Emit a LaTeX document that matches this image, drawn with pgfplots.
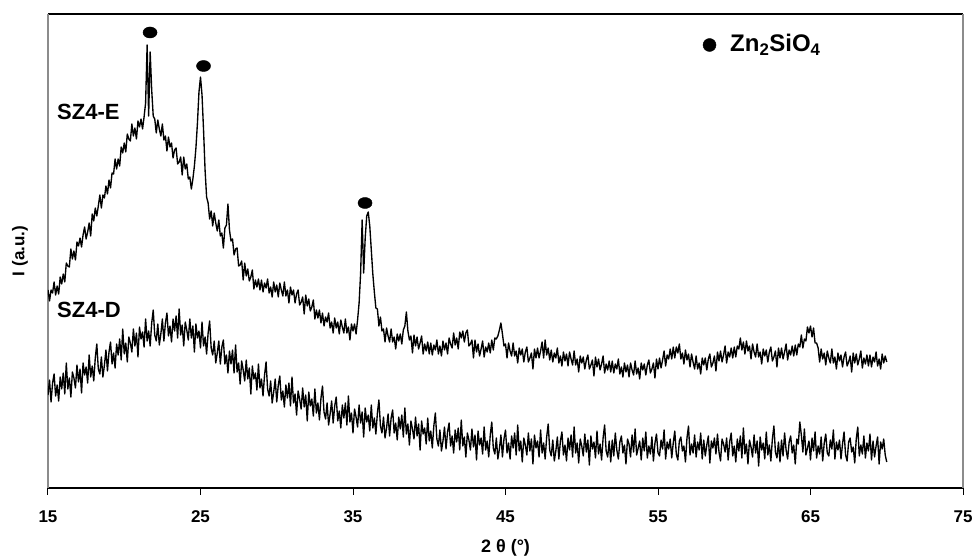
\documentclass[border=0pt]{standalone}
\usepackage{fontspec}
\setmainfont{Liberation Sans}
\usepackage{pgfplots}
\pgfplotsset{compat=1.18}
\begin{document}
\begin{tikzpicture}
\useasboundingbox (-48pt,-68pt) rectangle (927pt,488pt);
\begin{axis}[
  scale only axis, width=915pt, height=474pt,
  xmin=15, xmax=75, ymin=0, ymax=474,
  separate axis lines,
  x axis line style={black, line width=1.2pt},
  y axis line style={black!45, line width=1.6pt},
  xtick={15,25,35,45,55,65,75},
  xticklabels={15,25,35,45,55,65,75},
  ytick=\empty,
  tick align=outside,
  xtick pos=left,
  major tick length=7pt,
  every tick/.style={black, line width=1pt},
  xticklabel style={font=\fontsize{17}{17}\selectfont\bfseries, yshift=-12pt},
  xlabel={2 θ (°)},
  ylabel={I (a.u.)},
  every axis x label/.style={at={(axis description cs:0.5,-0.1266)},anchor=center,font=\fontsize{18}{18}\selectfont\bfseries},
  every axis y label/.style={at={(axis description cs:-0.0306,0.5)},rotate=90,anchor=center,font=\fontsize{17}{17}\selectfont\bfseries},
]
% SZ4-E
\addplot[black, line width=1.35pt, line join=round, mark=none] coordinates {
(15.0,198) (15.1,187) (15.2,198) (15.3,195) (15.4,206) (15.5,193) (15.6,202) (15.7,194) (15.8,211) (15.9,204)
(16.0,214) (16.1,206) (16.2,225) (16.3,222) (16.4,221) (16.5,239) (16.6,229) (16.7,237) (16.8,228) (16.9,246)
(17.0,242) (17.1,250) (17.2,241) (17.3,253) (17.4,261) (17.5,249) (17.6,256) (17.7,265) (17.8,252) (17.9,274)
(18.0,267) (18.1,280) (18.2,272) (18.3,282) (18.4,293) (18.5,280) (18.6,293) (18.7,290) (18.8,302) (18.9,294)
(19.0,308) (19.1,300) (19.2,315) (19.3,314) (19.4,329) (19.5,319) (19.6,329) (19.7,322) (19.8,341) (19.9,335)
(20.0,345) (20.1,336) (20.2,354) (20.3,349) (20.4,347) (20.5,364) (20.6,352) (20.7,360) (20.8,349) (20.9,367)
(21.0,361) (21.1,369) (21.2,359) (21.3,371) (21.4,385) (21.5,443) (21.6,372) (21.7,436) (21.8,398) (21.9,372)
(22.0,369) (22.1,355) (22.2,368) (22.3,359) (22.4,352) (22.5,364) (22.6,348) (22.7,352) (22.8,337) (22.9,351)
(23.0,341) (23.1,345) (23.2,330) (23.3,338) (23.4,340) (23.5,324) (23.6,326) (23.7,331) (23.8,313) (23.9,331)
(24.0,319) (24.1,324) (24.2,309) (24.3,311) (24.4,299) (24.5,309) (24.6,322) (24.7,340) (24.8,365) (24.9,396)
(25.0,411) (25.1,393) (25.2,358) (25.3,318) (25.4,291) (25.5,285) (25.6,269) (25.7,277) (25.8,262) (25.9,275)
(26.0,265) (26.1,257) (26.2,268) (26.3,252) (26.4,255) (26.5,240) (26.6,260) (26.7,263) (26.8,284) (26.9,258)
(27.0,247) (27.1,249) (27.2,233) (27.3,239) (27.4,240) (27.5,222) (27.6,223) (27.7,227) (27.8,208) (27.9,225)
(28.0,212) (28.1,219) (28.2,207) (28.3,211) (28.4,218) (28.5,199) (28.6,208) (28.7,201) (28.8,209) (28.9,198)
(29.0,208) (29.1,196) (29.2,205) (29.3,200) (29.4,209) (29.5,195) (29.6,201) (29.7,191) (29.8,206) (29.9,196)
(30.0,203) (30.1,191) (30.2,205) (30.3,198) (30.4,192) (30.5,206) (30.6,192) (30.7,198) (30.8,185) (30.9,201)
(31.0,193) (31.1,198) (31.2,185) (31.3,194) (31.4,198) (31.5,183) (31.6,186) (31.7,191) (31.8,174) (31.9,193)
(32.0,182) (32.1,189) (32.2,177) (32.3,181) (32.4,188) (32.5,169) (32.6,178) (32.7,170) (32.8,178) (32.9,165)
(33.0,175) (33.1,162) (33.2,171) (33.3,166) (33.4,175) (33.5,160) (33.6,166) (33.7,155) (33.8,170) (33.9,160)
(34.0,166) (34.1,154) (34.2,168) (34.3,161) (34.4,155) (34.5,169) (34.6,155) (34.7,161) (34.8,148) (34.9,164)
(35.0,157) (35.1,164) (35.2,154) (35.3,168) (35.4,185) (35.5,215) (35.6,268) (35.7,215) (35.8,250) (35.9,272)
(36.0,276) (36.1,262) (36.2,238) (36.3,214) (36.4,196) (36.5,180) (36.6,179) (36.7,162) (36.8,171) (36.9,157)
(37.0,159) (37.1,146) (37.2,160) (37.3,152) (37.4,146) (37.5,159) (37.6,146) (37.7,151) (37.8,139) (37.9,154)
(38.0,147) (38.1,154) (38.2,144) (38.3,158) (38.4,162) (38.5,176) (38.6,157) (38.7,148) (38.8,152) (38.9,135)
(39.0,153) (39.1,142) (39.2,151) (39.3,139) (39.4,145) (39.5,152) (39.6,134) (39.7,144) (39.8,137) (39.9,146)
(40.0,134) (40.1,145) (40.2,133) (40.3,143) (40.4,138) (40.5,148) (40.6,134) (40.7,142) (40.8,132) (40.9,147)
(41.0,138) (41.1,145) (41.2,134) (41.3,150) (41.4,144) (41.5,140) (41.6,155) (41.7,143) (41.8,150) (41.9,139)
(42.0,156) (42.1,150) (42.2,157) (42.3,146) (42.4,155) (42.5,158) (42.6,142) (42.7,144) (42.8,148) (42.9,130)
(43.0,148) (43.1,136) (43.2,144) (43.3,132) (43.4,139) (43.5,147) (43.6,131) (43.7,141) (43.8,136) (43.9,145)
(44.0,135) (44.1,148) (44.2,138) (44.3,150) (44.4,149) (44.5,152) (44.6,158) (44.7,165) (44.8,154) (44.9,142)
(45.0,144) (45.1,130) (45.2,145) (45.3,137) (45.4,132) (45.5,145) (45.6,132) (45.7,137) (45.8,125) (45.9,140)
(46.0,133) (46.1,139) (46.2,126) (46.3,136) (46.4,141) (46.5,126) (46.6,130) (46.7,135) (46.8,119) (46.9,139)
(47.0,130) (47.1,140) (47.2,130) (47.3,137) (47.4,146) (47.5,130) (47.6,148) (47.7,133) (47.8,140) (47.9,128)
(48.0,138) (48.1,126) (48.2,135) (48.3,130) (48.4,140) (48.5,125) (48.6,132) (48.7,122) (48.8,136) (48.9,127)
(49.0,134) (49.1,122) (49.2,136) (49.3,129) (49.4,123) (49.5,137) (49.6,123) (49.7,129) (49.8,116) (49.9,132)
(50.0,125) (50.1,131) (50.2,119) (50.3,128) (50.4,133) (50.5,119) (50.6,123) (50.7,128) (50.8,112) (50.9,131)
(51.0,121) (51.1,129) (51.2,118) (51.3,124) (51.4,132) (51.5,115) (51.6,124) (51.7,118) (51.8,127) (51.9,116)
(52.0,127) (52.1,115) (52.2,124) (52.3,119) (52.4,129) (52.5,114) (52.6,121) (52.7,111) (52.8,125) (52.9,116)
(53.0,123) (53.1,111) (53.2,125) (53.3,118) (53.4,113) (53.5,127) (53.6,114) (53.7,120) (53.8,109) (53.9,125)
(54.0,118) (54.1,124) (54.2,113) (54.3,123) (54.4,128) (54.5,115) (54.6,119) (54.7,125) (54.8,110) (54.9,129)
(55.0,119) (55.1,130) (55.2,120) (55.3,128) (55.4,137) (55.5,122) (55.6,133) (55.7,129) (55.8,139) (55.9,129)
(56.0,141) (56.1,130) (56.2,141) (56.3,135) (56.4,144) (56.5,129) (56.6,135) (56.7,124) (56.8,138) (56.9,128)
(57.0,134) (57.1,121) (57.2,134) (57.3,126) (57.4,119) (57.5,132) (57.6,119) (57.7,125) (57.8,114) (57.9,130)
(58.0,123) (58.1,130) (58.2,118) (58.3,129) (58.4,134) (58.5,121) (58.6,125) (58.7,132) (58.8,117) (58.9,136)
(59.0,127) (59.1,137) (59.2,126) (59.3,133) (59.4,142) (59.5,125) (59.6,136) (59.7,131) (59.8,140) (59.9,130)
(60.0,141) (60.1,131) (60.2,142) (60.3,139) (60.4,150) (60.5,138) (60.6,146) (60.7,134) (60.8,147) (60.9,137)
(61.0,142) (61.1,129) (61.2,144) (61.3,136) (61.4,131) (61.5,144) (61.6,131) (61.7,136) (61.8,124) (61.9,139)
(62.0,132) (62.1,138) (62.2,126) (62.3,136) (62.4,141) (62.5,127) (62.6,131) (62.7,137) (62.8,121) (62.9,140)
(63.0,130) (63.1,140) (63.2,129) (63.3,136) (63.4,144) (63.5,128) (63.6,138) (63.7,133) (63.8,142) (63.9,132)
(64.0,143) (64.1,133) (64.2,144) (64.3,141) (64.4,153) (64.5,140) (64.6,149) (64.7,147) (64.8,161) (64.9,155)
(65.0,162) (65.1,151) (65.2,160) (65.3,145) (65.4,145) (65.5,140) (65.6,126) (65.7,139) (65.8,129) (65.9,135)
(66.0,123) (66.1,137) (66.2,130) (66.3,125) (66.4,139) (66.5,125) (66.6,131) (66.7,119) (66.8,135) (66.9,127)
(67.0,133) (67.1,121) (67.2,131) (67.3,136) (67.4,122) (67.5,126) (67.6,132) (67.7,116) (67.8,135) (67.9,125)
(68.0,134) (68.1,123) (68.2,129) (68.3,137) (68.4,120) (68.5,130) (68.6,124) (68.7,133) (68.8,122) (68.9,133)
(69.0,121) (69.1,131) (69.2,126) (69.3,136) (69.4,122) (69.5,129) (69.6,119) (69.7,134) (69.8,125) (69.9,132)
(70.0,126)
};
% SZ4-D
\addplot[black, line width=1.35pt, line join=round, mark=none] coordinates {
(15.0,93) (15.1,108) (15.2,86) (15.3,105) (15.4,114) (15.5,92) (15.6,103) (15.7,87) (15.8,111) (15.9,99)
(16.0,115) (16.1,94) (16.2,125) (16.3,99) (16.4,110) (16.5,91) (16.6,116) (16.7,110) (16.8,100) (16.9,123)
(17.0,106) (17.1,119) (17.2,95) (17.3,125) (17.4,113) (17.5,121) (17.6,105) (17.7,133) (17.8,111) (17.9,122)
(18.0,107) (18.1,130) (18.2,144) (18.3,119) (18.4,114) (18.5,131) (18.6,111) (18.7,123) (18.8,138) (18.9,117)
(19.0,136) (19.1,146) (19.2,124) (19.3,135) (19.4,120) (19.5,144) (19.6,133) (19.7,149) (19.8,128) (19.9,159)
(20.0,134) (20.1,145) (20.2,126) (20.3,151) (20.4,145) (20.5,136) (20.6,159) (20.7,142) (20.8,155) (20.9,131)
(21.0,161) (21.1,149) (21.2,156) (21.3,141) (21.4,169) (21.5,147) (21.6,157) (21.7,142) (21.8,165) (21.9,178)
(22.0,153) (22.1,147) (22.2,164) (22.3,143) (22.4,154) (22.5,169) (22.6,147) (22.7,165) (22.8,175) (22.9,152)
(23.0,162) (23.1,146) (23.2,169) (23.3,157) (23.4,172) (23.5,150) (23.6,179) (23.7,153) (23.8,163) (23.9,142)
(24.0,166) (24.1,158) (24.2,148) (24.3,169) (24.4,150) (24.5,162) (24.6,136) (24.7,164) (24.8,150) (24.9,157)
(25.0,140) (25.1,166) (25.2,142) (25.3,151) (25.4,134) (25.5,155) (25.6,167) (25.7,140) (25.8,133) (25.9,147)
(26.0,125) (26.1,135) (26.2,147) (26.3,124) (26.4,141) (26.5,148) (26.6,124) (26.7,133) (26.8,115) (26.9,137)
(27.0,124) (27.1,138) (27.2,115) (27.3,143) (27.4,116) (27.5,125) (27.6,104) (27.7,127) (27.8,118) (27.9,107)
(28.0,128) (28.1,109) (28.2,120) (28.3,94) (28.4,122) (28.5,109) (28.6,115) (28.7,98) (28.8,124) (28.9,100)
(29.0,109) (29.1,92) (29.2,113) (29.3,126) (29.4,99) (29.5,92) (29.6,107) (29.7,85) (29.8,96) (29.9,109)
(30.0,86) (30.1,103) (30.2,112) (30.3,88) (30.4,97) (30.5,81) (30.6,103) (30.7,90) (30.8,105) (30.9,82)
(31.0,111) (31.1,85) (31.2,94) (31.3,73) (31.4,97) (31.5,89) (31.6,79) (31.7,100) (31.8,81) (31.9,93)
(32.0,67) (32.1,96) (32.2,82) (32.3,89) (32.4,72) (32.5,99) (32.6,75) (32.7,85) (32.8,68) (32.9,90)
(33.0,102) (33.1,76) (33.2,69) (33.3,85) (33.4,63) (33.5,74) (33.6,87) (33.7,65) (33.8,82) (33.9,91)
(34.0,67) (34.1,77) (34.2,60) (34.3,83) (34.4,70) (34.5,85) (34.6,63) (34.7,92) (34.8,66) (34.9,75)
(35.0,55) (35.1,79) (35.2,71) (35.3,61) (35.4,83) (35.5,65) (35.6,76) (35.7,51) (35.8,80) (35.9,66)
(36.0,73) (36.1,57) (36.2,83) (36.3,60) (36.4,70) (36.5,54) (36.6,75) (36.7,88) (36.8,62) (36.9,55)
(37.0,71) (37.1,50) (37.2,60) (37.3,74) (37.4,52) (37.5,70) (37.6,78) (37.7,55) (37.8,65) (37.9,48)
(38.0,71) (38.1,59) (38.2,73) (38.3,51) (38.4,80) (38.5,54) (38.6,64) (38.7,43) (38.8,67) (38.9,59)
(39.0,49) (39.1,71) (39.2,52) (39.3,64) (39.4,38) (39.5,67) (39.6,54) (39.7,60) (39.8,44) (39.9,70)
(40.0,47) (40.1,57) (40.2,40) (40.3,62) (40.4,75) (40.5,49) (40.6,42) (40.7,58) (40.8,37) (40.9,47)
(41.0,61) (41.1,39) (41.2,56) (41.3,65) (41.4,42) (41.5,52) (41.6,35) (41.7,58) (41.8,46) (41.9,60)
(42.0,38) (42.1,68) (42.2,42) (42.3,51) (42.4,31) (42.5,55) (42.6,48) (42.7,38) (42.8,59) (42.9,41)
(43.0,53) (43.1,28) (43.2,57) (43.3,43) (43.4,50) (43.5,34) (43.6,61) (43.7,38) (43.8,47) (43.9,31)
(44.0,53) (44.1,66) (44.2,40) (44.3,34) (44.4,50) (44.5,29) (44.6,39) (44.7,53) (44.8,31) (44.9,49)
(45.0,58) (45.1,35) (45.2,45) (45.3,29) (45.4,52) (45.5,40) (45.6,55) (45.7,33) (45.8,63) (45.9,37)
(46.0,47) (46.1,26) (46.2,50) (46.3,43) (46.4,33) (46.5,55) (46.6,37) (46.7,49) (46.8,24) (46.9,53)
(47.0,40) (47.1,47) (47.2,31) (47.3,58) (47.4,35) (47.5,45) (47.6,29) (47.7,51) (47.8,64) (47.9,38)
(48.0,32) (48.1,48) (48.2,27) (48.3,37) (48.4,51) (48.5,29) (48.6,47) (48.7,56) (48.8,33) (48.9,43)
(49.0,27) (49.1,50) (49.2,38) (49.3,53) (49.4,31) (49.5,61) (49.6,35) (49.7,45) (49.8,25) (49.9,49)
(50.0,42) (50.1,32) (50.2,54) (50.3,36) (50.4,48) (50.5,23) (50.6,52) (50.7,39) (50.8,46) (50.9,30)
(51.0,57) (51.1,34) (51.2,44) (51.3,28) (51.4,50) (51.5,63) (51.6,37) (51.7,31) (51.8,47) (51.9,26)
(52.0,48) (52.1,32) (52.2,55) (52.3,38) (52.4,29) (52.5,46) (52.6,52) (52.7,35) (52.8,43) (52.9,24)
(53.0,49) (53.1,44) (53.2,31) (53.3,53) (53.4,36) (53.5,59) (53.6,33) (53.7,40) (53.8,47) (53.9,28)
(54.0,50) (54.1,37) (54.2,56) (54.3,30) (54.4,42) (54.5,34) (54.6,51) (54.7,27) (54.8,45) (54.9,54)
(55.0,35) (55.1,32) (55.2,48) (55.3,39) (55.4,58) (55.5,29) (55.6,46) (55.7,39) (55.8,49) (55.9,30)
(56.0,45) (56.1,57) (56.2,34) (56.3,28) (56.4,47) (56.5,51) (56.6,37) (56.7,42) (56.8,26) (56.9,50)
(57.0,62) (57.1,33) (57.2,44) (57.3,35) (57.4,53) (57.5,31) (57.6,46) (57.7,38) (57.8,55) (57.9,29)
(58.0,48) (58.1,32) (58.2,43) (58.3,52) (58.4,25) (58.5,47) (58.6,40) (58.7,50) (58.8,34) (58.9,54)
(59.0,36) (59.1,27) (59.2,49) (59.3,44) (59.4,36) (59.5,50) (59.6,28) (59.7,46) (59.8,55) (59.9,32)
(60.0,42) (60.1,26) (60.2,49) (60.3,37) (60.4,52) (60.5,30) (60.6,60) (60.7,34) (60.8,44) (60.9,24)
(61.0,48) (61.1,41) (61.2,31) (61.3,53) (61.4,35) (61.5,47) (61.6,22) (61.7,51) (61.8,38) (61.9,45)
(62.0,29) (62.1,56) (62.2,33) (62.3,43) (62.4,27) (62.5,49) (62.6,62) (62.7,36) (62.8,30) (62.9,46)
(63.0,26) (63.1,48) (63.2,32) (63.3,55) (63.4,38) (63.5,29) (63.6,46) (63.7,52) (63.8,35) (63.9,43)
(64.0,24) (64.1,49) (64.2,44) (64.3,66) (64.4,53) (64.5,36) (64.6,59) (64.7,33) (64.8,40) (64.9,47)
(65.0,28) (65.1,50) (65.2,37) (65.3,56) (65.4,30) (65.5,42) (65.6,34) (65.7,51) (65.8,27) (65.9,45)
(66.0,54) (66.1,35) (66.2,32) (66.3,48) (66.4,39) (66.5,58) (66.6,29) (66.7,46) (66.8,38) (66.9,48)
(67.0,29) (67.1,44) (67.2,56) (67.3,33) (67.4,27) (67.5,46) (67.6,50) (67.7,36) (67.8,41) (67.9,25)
(68.0,49) (68.1,61) (68.2,32) (68.3,43) (68.4,34) (68.5,52) (68.6,30) (68.7,45) (68.8,37) (68.9,54)
(69.0,28) (69.1,47) (69.2,31) (69.3,42) (69.4,51) (69.5,24) (69.6,46) (69.7,39) (69.8,49) (69.9,33)
(70.0,26)
};
% peak markers
\addplot[only marks, mark=*, mark size=6.3pt, mark options={black, xscale=1.12, yscale=0.88}] coordinates {(21.69,455.5) (25.20,422) (35.79,285)};
\addplot[only marks, mark=*, mark size=6.5pt, mark options={black}] coordinates {(58.38,443)};
\node[anchor=base west, inner sep=0pt, font=\fontsize{24}{24}\selectfont\bfseries] at (axis cs:59.72,436) {Zn\textsubscript{2}SiO\textsubscript{4}};
\node[anchor=base west, inner sep=0pt, font=\fontsize{22}{22}\selectfont\bfseries] at (axis cs:15.59,368) {SZ4-E};
\node[anchor=base west, inner sep=0pt, font=\fontsize{22}{22}\selectfont\bfseries] at (axis cs:15.59,170) {SZ4-D};
\end{axis}
\end{tikzpicture}
\end{document}
